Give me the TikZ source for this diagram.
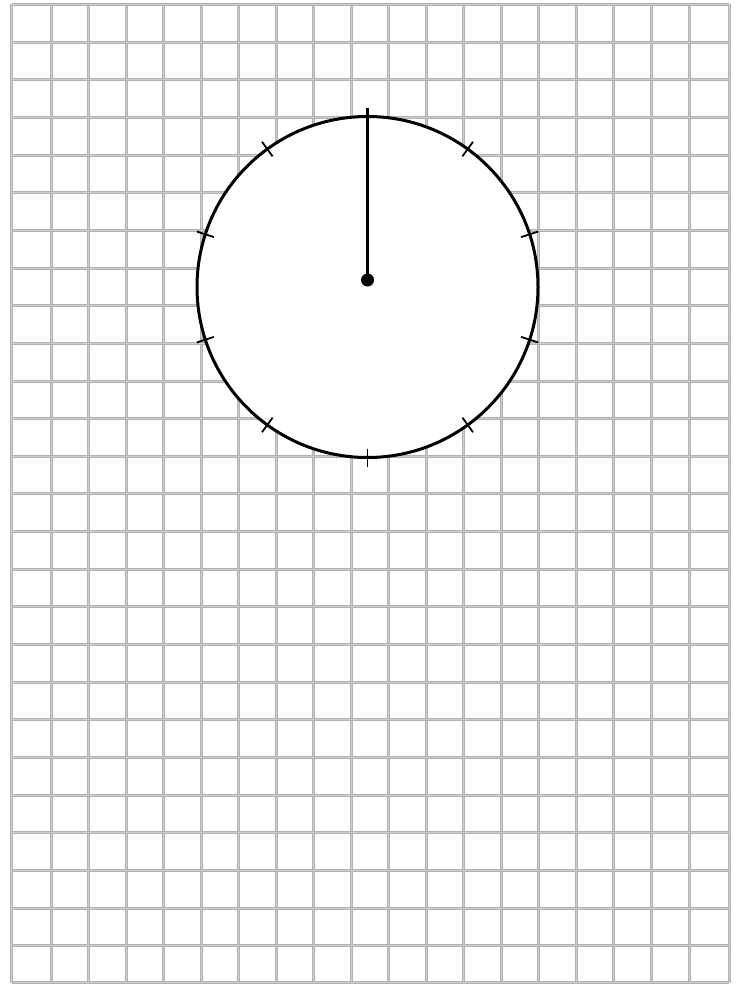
\documentclass[tikz,border=0pt]{standalone}
\usepackage{tikz}
\usetikzlibrary{calc}
\definecolor{GridDark}{RGB}{178,178,178}
\definecolor{GridLight}{RGB}{206,206,206}

\begin{document}
\begin{tikzpicture}[
    x=0.75pt,y=-0.75pt,
    gridline/.style={draw=GridDark, line width=3*0.75pt},
    gridcore/.style={draw=GridLight, line width=1*0.75pt},
    rim/.style={draw=black, fill=white, line width=3*0.75pt},
    tick/.style={draw=black, line width=1.8*0.75pt},
    hand/.style={draw=black, line width=2.5*0.75pt}
  ]
    \useasboundingbox (0,0) rectangle (737,984);
    % squared paper
    \foreach \i in {0,...,19} {
      \pgfmathsetmacro{\gx}{ifthenelse(\i==0,11.5,ifthenelse(\i==19,729,13.5+37.53*\i))}
      \draw[gridline] (\gx,4.5) -- (\gx,982.5);
      \draw[gridcore] (\gx,4.5) -- (\gx,982.5);
    }
    \foreach \j in {0,...,26} {
      \pgfmathsetmacro{\gy}{ifthenelse(\j==26,982.5,4.5+37.65*\j)}
      \draw[gridline] (11.5,\gy) -- (729,\gy);
      \draw[gridcore] (11.5,\gy) -- (729,\gy);
    }
    % dial
    \coordinate (centre) at (367.5,287);
    \coordinate (hub) at (367.5,280);
    \coordinate (tip) at (367.5,108);
    \draw[rim] (centre) circle[radius=170.5];
    \foreach \k in {1,...,9} {
      \draw[tick] ($(centre)+({90-36*\k}:-161.5)$) -- ($(centre)+({90-36*\k}:-179.5)$);
    }
    \draw[hand] (hub) -- (tip);
    \fill (hub) circle[radius=6.5];
  \end{tikzpicture}
\end{document}
